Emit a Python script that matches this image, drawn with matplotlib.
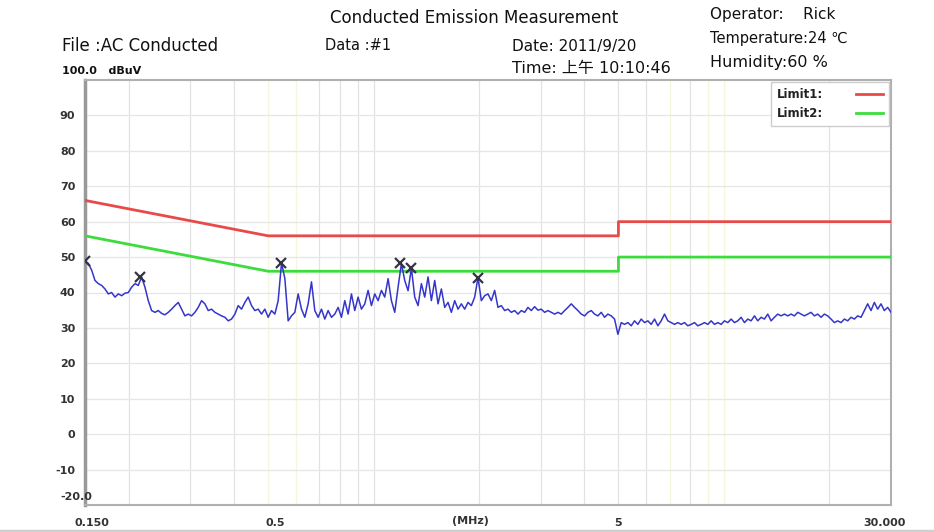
import numpy as np
import matplotlib
matplotlib.use("Agg")
import matplotlib.pyplot as plt
from matplotlib.lines import Line2D
import matplotlib.transforms as mtransforms

plt.rcParams['font.family'] = ['DejaVu Sans', 'Noto Sans CJK SC']

# ---------------- data ----------------
# limit lines (MHz, dBuV)
limit_freq = [0.15, 0.5, 5.0, 5.0, 30.0]
limit1 = [66, 56, 56, 60, 60]
limit2 = [56, 46, 46, 50, 50]

trace_a = [48.8, 48.2, 46.3, 43.4, 42.5, 42.0, 41.0, 39.6, 40.0, 38.7,
           39.6, 39.1, 39.8, 40.0, 41.5, 42.5, 42.0, 44.4, 41.5, 37.7,
           34.9, 34.4, 34.9, 34.1, 33.7, 34.4, 35.3, 36.3, 37.2, 35.3,
           33.4, 33.9, 33.4, 34.4, 35.8, 37.7, 36.8, 34.9, 35.3, 34.4,
           33.9, 33.4, 33.0, 32.0, 32.5, 33.9, 36.3, 35.3, 37.2, 38.7,
           36.3, 34.9, 35.3, 33.9, 35.3, 33.0, 34.9, 33.9, 37.7, 48.3,
           44.0, 32.0, 33.4, 34.4, 39.6, 35.3, 33.0, 36.8, 43.0, 34.9,
           33.0, 35.3, 32.5, 34.9, 33.0, 33.9, 35.8, 33.0, 37.7, 33.9,
           39.6, 34.9, 38.7, 35.3, 36.8, 40.6, 36.3, 39.6, 37.7, 40.6,
           38.7, 43.9, 37.7, 34.4, 41.5, 48.2, 43.4, 40.5, 46.9, 38.7,
           36.3, 42.5, 38.7, 44.4, 37.7, 43.4, 36.8, 41.0, 35.8, 37.2,
           34.4, 37.7, 35.3, 36.8, 35.3, 37.2, 36.3, 38.7, 44.2, 37.7,
           39.1]
trace_b = [39.6, 37.7, 40.6, 35.8, 36.3, 34.9, 35.3, 34.4, 34.9, 33.9,
           34.9, 34.4, 35.8, 34.9, 36.0, 35.0, 35.3, 34.4, 34.9, 34.4,
           33.9, 34.4, 33.9, 34.9, 35.8, 36.8, 35.8, 34.9, 33.9, 33.4,
           34.4, 34.9, 33.9, 33.4, 34.4, 33.0, 33.9, 33.4, 32.5, 28.2,
           31.5, 31.0, 31.5, 30.6, 32.0, 31.0, 32.5, 31.5, 32.0, 31.0,
           32.5, 30.6, 32.0, 33.9, 32.0, 31.5, 31.0, 31.5, 31.0, 31.5,
           30.6, 31.0, 31.5, 30.6, 31.0, 31.5, 31.0, 32.0, 31.0, 31.5,
           31.0, 32.0, 31.5, 32.5, 31.5, 32.0, 33.0, 31.5, 32.5, 32.0,
           33.4, 32.0, 33.0, 32.5, 33.9, 32.0, 33.0, 33.9, 33.4, 33.9,
           33.4, 33.9, 33.4, 34.4, 33.9, 33.4, 33.9, 34.4, 33.4, 33.9,
           33.0, 33.9, 33.4, 32.5, 31.5, 32.0, 31.5, 32.5, 32.0, 33.0,
           32.5, 33.4, 33.0, 34.9, 36.8, 34.9, 37.2, 35.3, 36.8, 34.9,
           35.8, 34.4]
trace = np.array(trace_a + trace_b)
trace_freq = np.geomspace(0.15, 30.0, len(trace))

# peak markers
peak_freq = [0.15, 0.216, 0.543, 1.19, 1.28, 1.98]
peak_val = [48.8, 44.4, 48.3, 48.2, 46.9, 44.2]

yticks = [-10, 0, 10, 20, 30, 40, 50, 60, 70, 80, 90]
xticks = [0.15, 0.5, 5, 30]
xticklabels = ['0.150', '0.5', '5', '30.000']

grid_gray = [0.2, 0.3, 0.4, 0.7, 0.8, 0.9, 1, 2, 3, 4, 5, 6, 8, 20]
grid_yellow = [0.5, 0.6, 7, 9, 10]

# ---------------- figure ----------------
fig = plt.figure(figsize=(9.34, 5.32), dpi=100)
ax = fig.add_axes([85/934, 1-505/532, 806/934, 425/532])
ax.set_xscale('log')
ax.set_xlim(0.15, 30)
ax.set_ylim(-20, 100)

for f in grid_gray:
    ax.axvline(f, color='#e2e2e2', lw=0.9, zorder=0)
for f in grid_yellow:
    ax.axvline(f, color='#f6f6dc', lw=0.9, zorder=0)
for y in yticks:
    ax.axhline(y, color='#e6e6e6', lw=0.9, zorder=0)

ax.plot(limit_freq, limit1, color='#e84a4a', lw=2, zorder=3)
ax.plot(limit_freq, limit2, color='#3ddc3d', lw=2, zorder=3)
ax.plot(trace_freq, trace, color='#3535cc', lw=1.1, zorder=4)
ax.plot(peak_freq, peak_val, ls='none', marker='x', color='#333344',
        ms=6.5, mew=1.6, zorder=5)

for s in ax.spines.values():
    s.set_color('#b0b0b0')
    s.set_linewidth(1.5)
ax.spines['left'].set_color('#999999')
ax.spines['left'].set_linewidth(2.5)

ax.set_yticks(yticks)
ax.set_yticklabels([str(v) for v in yticks], fontsize=8, fontweight='bold', color='#333333')
ax.set_xticks(xticks)
ax.set_xticklabels(xticklabels, fontsize=8, fontweight='bold', color='#333333')
ax.xaxis.set_minor_locator(matplotlib.ticker.NullLocator())
ax.tick_params(axis='y', length=0, pad=7)
ax.tick_params(axis='x', length=0, pad=9)

x_offsets = [7, 7, 0, -6]
for lab, dx in zip(ax.get_xticklabels(), x_offsets):
    lab.set_transform(lab.get_transform() +
                      mtransforms.ScaledTranslation(dx/100, 0, fig.dpi_scale_trans))

trans = mtransforms.blended_transform_factory(ax.transAxes, ax.transData)
ax.text(0.009, -17.6, '-20.0', transform=trans, ha='right', va='center',
        fontsize=8, fontweight='bold', color='#333333')
ax.text(0.478, -0.038, '(MHz)', transform=ax.transAxes, ha='center', va='center',
        fontsize=8, fontweight='bold', color='#333333')

handles = [Line2D([], [], color='#e84a4a', lw=2), Line2D([], [], color='#3ddc3d', lw=2)]
leg = ax.legend(handles, ['Limit1:', 'Limit2:'], loc='upper right', markerfirst=False,
                frameon=True, fancybox=False, edgecolor='#cccccc', framealpha=1,
                prop={'size': 8.5, 'weight': 'bold'}, handlelength=2.3,
                handletextpad=2.8, borderaxespad=0.15, labelspacing=0.55,
                borderpad=0.5)
leg.get_frame().set_linewidth(1.0)
for t in leg.get_texts():
    t.set_color('#222222')

# header texts
def ftext(x, y, s, **kw):
    fig.text(x/934, 1-y/532, s, va='center', ha='left', color='#111111', **kw)

ftext(330, 18, 'Conducted Emission Measurement', fontsize=12)
ftext(62, 46, 'File :AC Conducted', fontsize=12)
ftext(325, 46, 'Data :#1', fontsize=10.5)
ftext(512, 46, 'Date: 2011/9/20', fontsize=11)
ftext(512, 69, 'Time: 上午 10:10:46', fontsize=11.5)
ftext(710, 15, 'Operator:    Rick', fontsize=11)
ftext(710, 38, 'Temperature:24 ℃', fontsize=10.5)
ftext(710, 62, 'Humidity:60 %', fontsize=11.5)
ftext(62, 71, '100.0   dBuV', fontsize=8, fontweight='bold')

fig.add_artist(Line2D([0, 1], [1.5/532, 1.5/532], color='#cfcfcf', lw=2.5,
                      transform=fig.transFigure))

fig.savefig('out.png', dpi=100, facecolor='white')
